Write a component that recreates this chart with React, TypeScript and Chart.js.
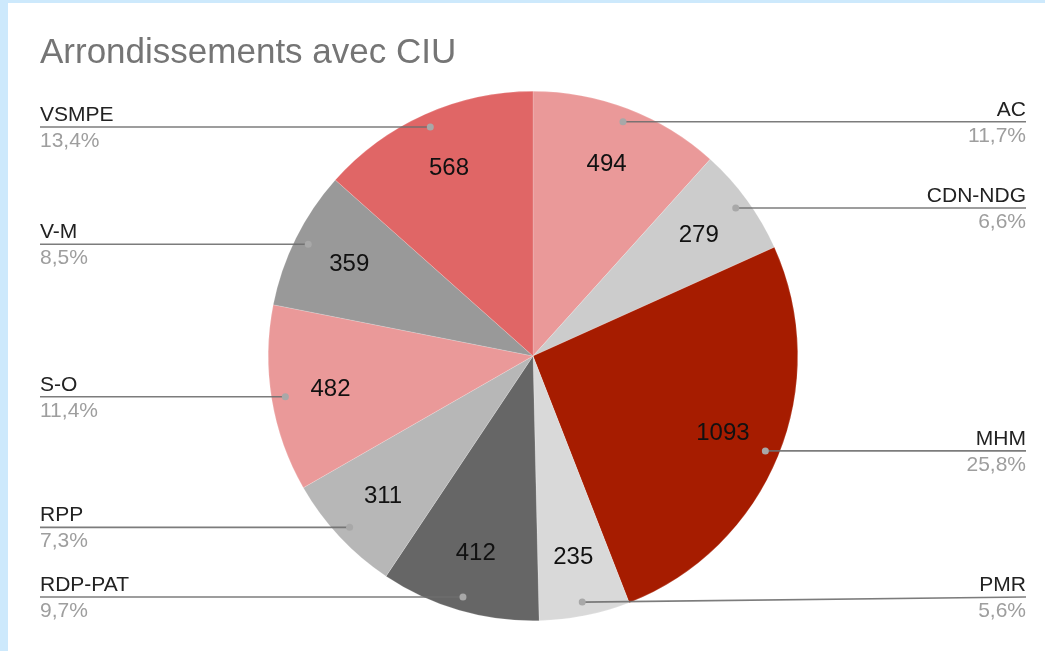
import React, { useEffect, useRef } from "react";
import { Chart, registerables } from "chart.js";

Chart.register(...registerables);

const titleText = "Arrondissements avec CIU";
const categories = ["AC", "CDN-NDG", "MHM", "PMR", "RDP-PAT", "RPP", "S-O", "V-M", "VSMPE"];
const values = [494, 279, 1093, 235, 412, 311, 482, 359, 568];
const sliceColors = ["#ea9999", "#cccccc", "#a61c00", "#d9d9d9", "#666666", "#b7b7b7", "#ea9999", "#999999", "#e06666"];

const FONT = "'Liberation Sans', Arial, sans-serif";

const labelPlugin = {
  id: "sideLabels",
  afterDatasetsDraw(chart: any) {
    const ctx = chart.ctx as CanvasRenderingContext2D;
    const meta = chart.getDatasetMeta(0);
    const total = values.reduce((a, b) => a + b, 0);
    const area = chart.chartArea;
    ctx.save();
    // title
    ctx.fillStyle = "#757575";
    ctx.font = `35px ${FONT}`;
    ctx.textAlign = "left";
    ctx.textBaseline = "alphabetic";
    ctx.fillText(titleText, 40, 63);

    meta.data.forEach((arc: any, i: number) => {
      const mid = (arc.startAngle + arc.endAngle) / 2;
      const R = arc.outerRadius;
      const cx = arc.x;
      const cy = arc.y;
      // value inside slice
      const vr = R * 0.775;
      ctx.fillStyle = "#111111";
      ctx.font = `24px ${FONT}`;
      ctx.textAlign = "center";
      ctx.textBaseline = "middle";
      ctx.fillText(String(values[i]), cx + Math.cos(mid) * vr, cy + Math.sin(mid) * vr);

      // leader line
      const dr = R * 0.948;
      const dx = cx + Math.cos(mid) * dr;
      const dy = cy + Math.sin(mid) * dr;
      const right = Math.cos(mid) > 0;
      const ly = Math.min(dy, area.bottom - 24);
      const endX = right ? 1026 : 40;
      ctx.strokeStyle = "rgba(110,110,110,0.9)";
      ctx.lineWidth = 1.6;
      ctx.beginPath();
      ctx.moveTo(dx, dy);
      ctx.lineTo(endX, ly);
      ctx.stroke();
      ctx.fillStyle = "#a8a8a8";
      ctx.beginPath();
      ctx.arc(dx, dy, 3.5, 0, Math.PI * 2);
      ctx.fill();

      // label text
      ctx.textAlign = right ? "right" : "left";
      ctx.textBaseline = "alphabetic";
      ctx.font = `21px ${FONT}`;
      ctx.fillStyle = "#222222";
      ctx.fillText(categories[i], endX, ly - 6);
      ctx.fillStyle = "#9e9e9e";
      const pct = ((values[i] / total) * 100).toFixed(1).replace(".", ",") + "%";
      ctx.fillText(pct, endX, ly + 20);
    });
    ctx.restore();
  },
};

export default function App() {
  const ref = useRef<HTMLCanvasElement | null>(null);
  useEffect(() => {
    if (!ref.current) return;
    const chart = new Chart(ref.current, {
      type: "pie",
      data: {
        labels: categories,
        datasets: [
          {
            data: values,
            backgroundColor: sliceColors,
            borderColor: "rgba(255,255,255,0.35)",
            borderWidth: 0.5,
          },
        ],
      },
      options: {
        responsive: false,
        animation: false,
        layout: { padding: { left: 268, right: 247, top: 91, bottom: 30 } },
        plugins: {
          legend: { display: false },
          tooltip: { enabled: false },
          title: { display: false },
        },
      },
      plugins: [labelPlugin],
    });
    return () => chart.destroy();
  }, []);

  return (
    <div style={{ position: "relative", width: 1045, height: 651, background: "#cde9fc", overflow: "hidden" }}>
      <style>{"body{margin:0}"}</style>
      <div style={{ position: "absolute", left: 8, top: 3, right: 0, bottom: 0, background: "#ffffff" }} />
      <canvas ref={ref} width={1045} height={651} style={{ position: "absolute", left: 0, top: 0, width: 1045, height: 651 }} />
    </div>
  );
}
